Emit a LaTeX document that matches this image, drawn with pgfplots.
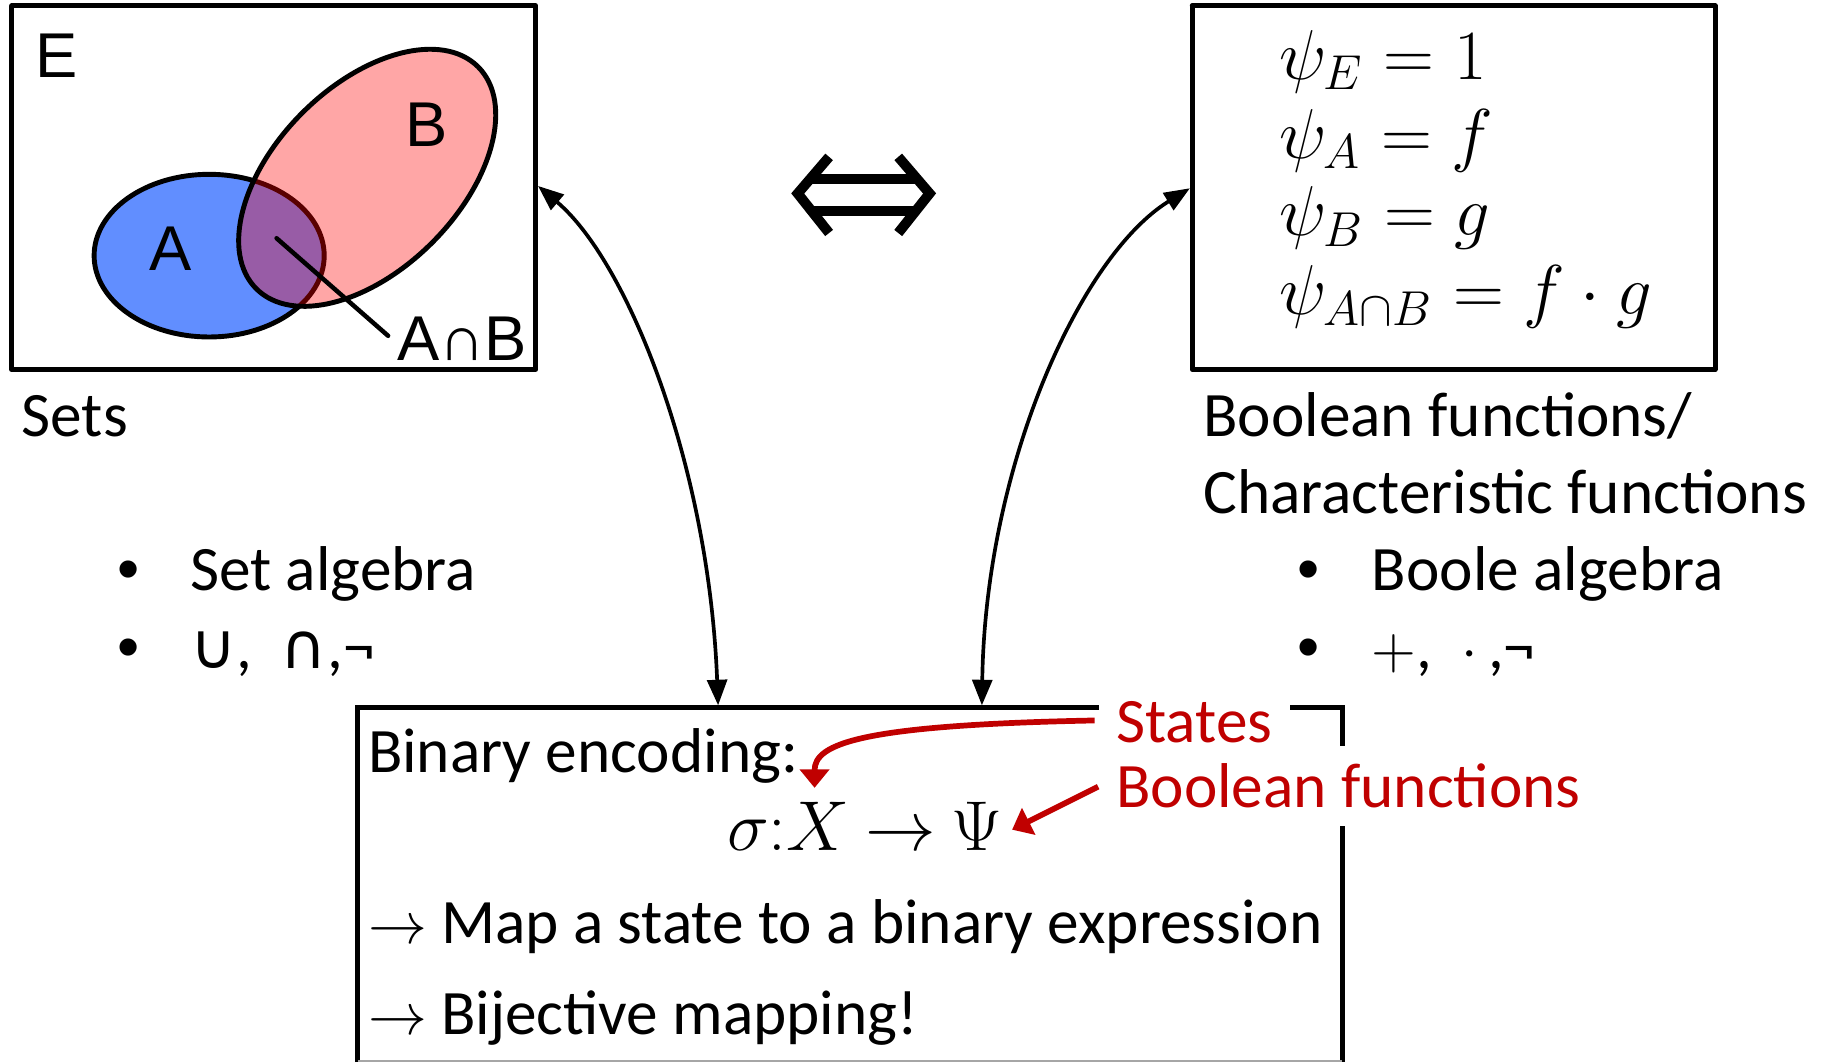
\documentclass[border=0pt]{standalone}
\usepackage{pgfplots}
\pgfplotsset{compat=1.18}
\usetikzlibrary{arrows.meta}
\usepackage{fontspec}
\setmainfont{Carlito}
\newfontfamily\arialf{Liberation Sans}
\newfontfamily\dejavu{DejaVu Sans}
\definecolor{myred}{RGB}{192,0,0}
\definecolor{ablue}{RGB}{97,142,255}
\begin{document}
\begin{tikzpicture}[
 txt/.style={font=\fontsize{15.5}{18.6}\selectfont, inner sep=0pt, anchor=base west},
 lab/.style={font=\arialf\fontsize{15.5}{18.6}\selectfont, inner sep=0pt, anchor=base west},
 mth/.style={font=\fontsize{16.5}{19}\selectfont, inner sep=0pt, anchor=base west},
]
\begin{axis}[
 width=15.68cm, height=9.14cm, scale only axis,
 xmin=0, xmax=1568, ymin=0, ymax=914, y dir=reverse,
 hide axis, clip=false,
]
\coordinate (bbA) at (axis cs:0,914);
\coordinate (bbB) at (axis cs:1568,0);
% left box (sets)
\addplot[black, line width=1.2pt, line cap=round, line join=round] coordinates {(10,5) (461,5) (461,318) (10,318) (10,5)};
% right box (Boolean functions)
\addplot[black, line width=1.2pt, line cap=round, line join=round] coordinates {(1026,5) (1476,5) (1476,318) (1026,318) (1026,5)};
% Venn diagram
\fill[ablue] (axis cs:180,220) ellipse [x radius=99, y radius=70];
\draw[black, line width=1.2pt] (axis cs:180,220) ellipse [x radius=99, y radius=70];
\fill[red, fill opacity=0.35, rotate around={45:(axis cs:316,153)}] (axis cs:316,153) ellipse [x radius=135, y radius=79];
\draw[black, line width=1.2pt, rotate around={45:(axis cs:316,153)}] (axis cs:316,153) ellipse [x radius=135, y radius=79];
\addplot[black, line width=1.1pt, line cap=round] coordinates {(238,205) (334,289)};
\node[lab] at (axis cs:30,67) {E};
\node[lab] at (axis cs:128,233) {A};
\node[lab] at (axis cs:348,126) {B};
\node[lab] at (axis cs:341,310) {A∩B};
% double arrow
\addplot[black, line width=2.45pt, line join=miter] coordinates {(713.5,135) (686.5,166.5) (713.5,200.5)};
\addplot[black, line width=2.45pt, line join=miter] coordinates {(773,135) (800,166.5) (773,200.5)};
\addplot[black, line width=2.45pt] coordinates {(697,154) (790,154)};
\addplot[black, line width=2.45pt] coordinates {(697,182) (790,182)};
% left side texts
\node[txt] at (axis cs:18,376) {Sets};
\node[txt, font=\arialf\fontsize{15.5}{18.6}\selectfont] at (axis cs:100,508) {•};
\node[txt] at (axis cs:163,508) {Set algebra};
\node[txt, font=\arialf\fontsize{15.5}{18.6}\selectfont] at (axis cs:100,575) {•};
\node[txt] at (axis cs:163,575) {{\dejavu ∪},\ \ {\dejavu ∩},¬};
% right side texts
\node[mth] at (axis cs:1100,68) {$\psi_E = 1$};
\node[mth] at (axis cs:1100,136) {$\psi_A = f$};
\node[mth] at (axis cs:1100,203) {$\psi_B = g$};
\node[mth] at (axis cs:1100,271) {$\psi_{A\cap B} = f\cdot g$};
\node[txt] at (axis cs:1035,376) {Boolean functions/};
\node[txt] at (axis cs:1035,442) {Characteristic functions};
\node[txt, font=\arialf\fontsize{15.5}{18.6}\selectfont] at (axis cs:1116,508) {•};
\node[txt] at (axis cs:1180,508) {Boole algebra};
\node[txt, font=\arialf\fontsize{15.5}{18.6}\selectfont] at (axis cs:1116,575) {•};
\node[txt] at (axis cs:1180,575) {$+$,\ \ $\cdot$\,,¬};
% curved double arrows
\draw[black, line width=0.9pt, {Triangle[length=2.2mm,width=1.7mm]}-{Triangle[length=2.2mm,width=1.7mm]}]
  (axis cs:463,160) .. controls (axis cs:540,225) and (axis cs:610,400) .. (axis cs:618,607);
\draw[black, line width=0.9pt, {Triangle[length=2.2mm,width=1.7mm]}-{Triangle[length=2.2mm,width=1.7mm]}]
  (axis cs:845,607) .. controls (axis cs:848,400) and (axis cs:930,220) .. (axis cs:1024,162);
% bottom box
\addplot[black, line width=1.2pt, line join=miter] coordinates {(308,914) (308,609) (1155,609) (1155,914)};
\addplot[black!35, line width=0.6pt] coordinates {(308,913) (1155,913)};
\node[txt, text=myred, fill=white, inner xsep=0.15cm, inner ysep=0.1cm] at (axis cs:945,639) {States};
\node[txt, text=myred, fill=white, inner xsep=0.15cm, inner ysep=0.15cm] at (axis cs:945,695) {Boolean functions};
\node[txt] at (axis cs:316,665) {Binary encoding:};
\node[mth] at (axis cs:625,732) {$\sigma{:}X\mskip4mu{\rightarrow}\mskip4mu\Psi$};
\node[txt] at (axis cs:316,812) {$\rightarrow$ Map a state to a binary expression};
\node[txt] at (axis cs:316,890) {$\rightarrow$ Bijective mapping!};
% red arrows
\draw[myred, line width=1.4pt, -{Triangle[length=1.6mm,width=2.5mm]}]
  (axis cs:942,620) .. controls (axis cs:740,624) and (axis cs:701,640) .. (axis cs:701,678);
\draw[myred, line width=1.4pt, -{Triangle[length=1.6mm,width=2.5mm]}]
  (axis cs:945,677) -- (axis cs:871,714);
\end{axis}
\pgfresetboundingbox
\useasboundingbox (bbA) rectangle (bbB);
\end{tikzpicture}
\end{document}
